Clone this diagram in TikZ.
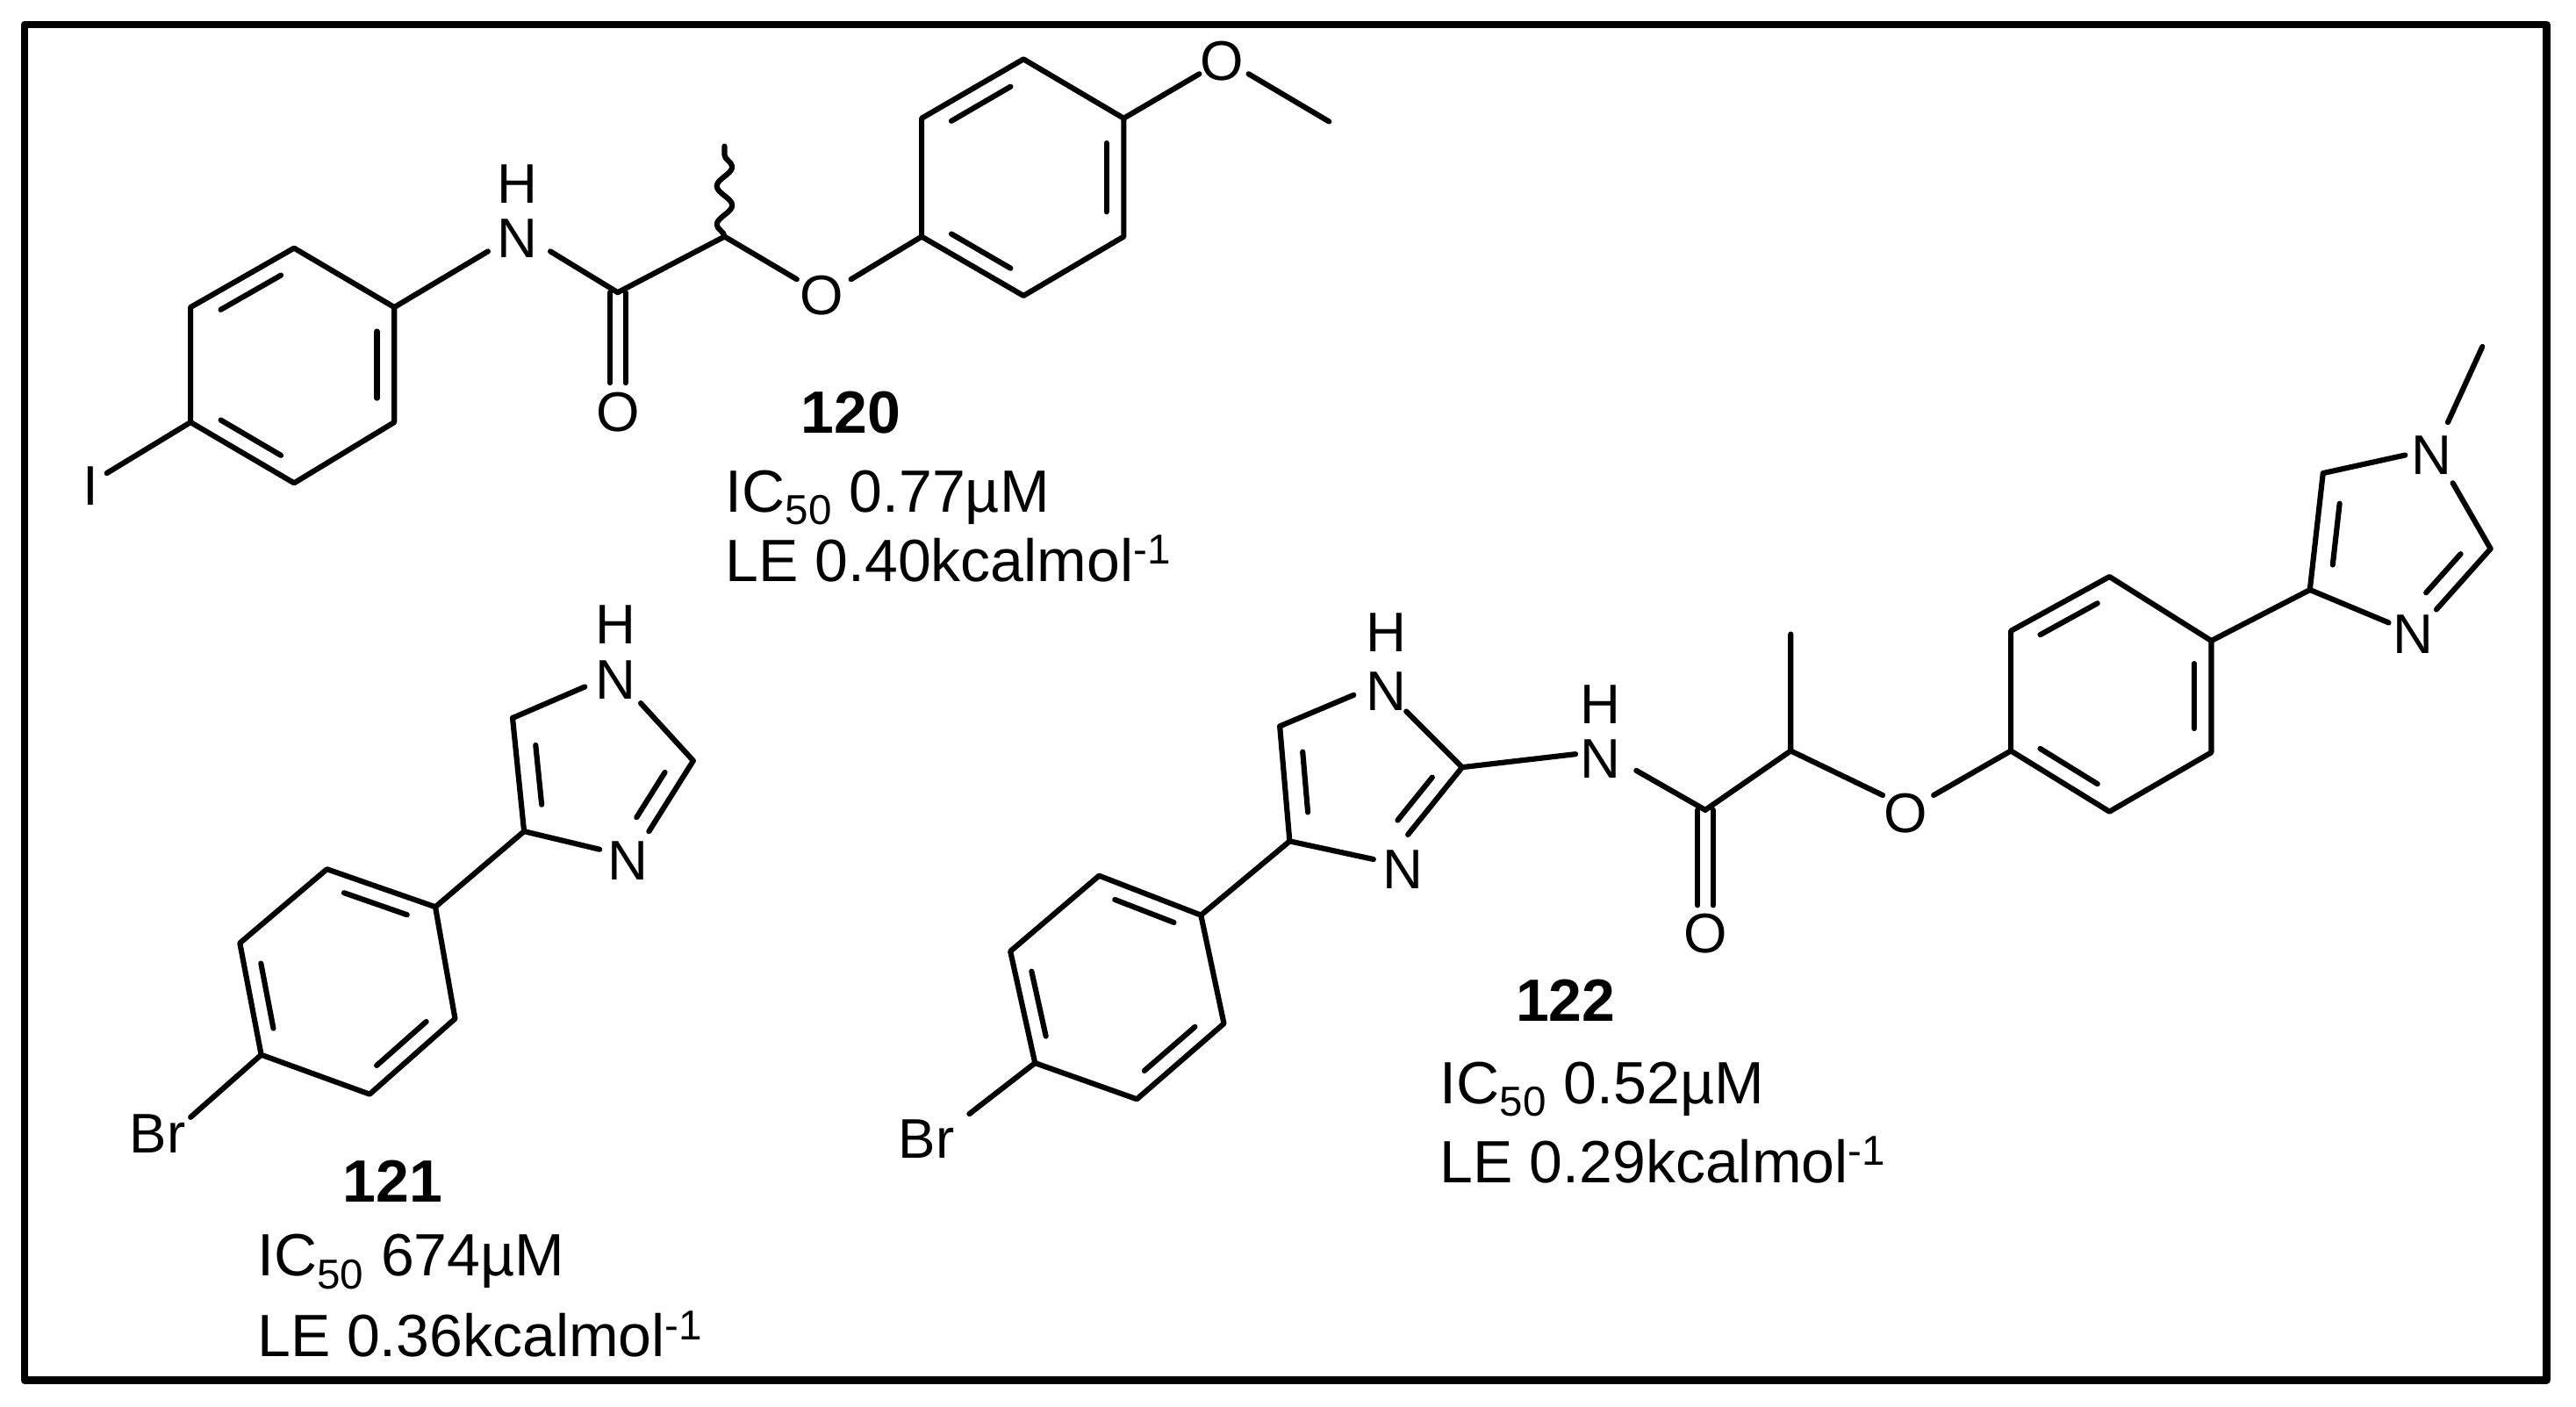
\documentclass[tikz,border=0pt]{standalone}
\usepackage{fontspec}
\setmainfont{Liberation Sans}
\usetikzlibrary{calc,decorations.pathmorphing}
\begin{document}
\begin{tikzpicture}[x=0.03cm,y=-0.03cm,line width=2.8pt,line cap=round,line join=round,
  atom/.style={inner sep=0pt,font=\fontsize{29}{30}\selectfont},
  lab/.style={inner sep=0pt,anchor=west,font=\fontsize{31}{33}\selectfont},
  num/.style={inner sep=0pt,font=\fontsize{31}{33}\selectfont\bfseries}]
\useasboundingbox (0,0) rectangle (1568,856);
\draw[line width=4pt] (15,15) rectangle (1550,840);
\newcommand{\dbond}[4]{\draw ($($(#1)!0.15!(#2)$)!#4!(#3)$) -- ($($(#2)!0.15!(#1)$)!#4!(#3)$);}
% ---------- 120 ----------
\coordinate (a1) at (179,151); \coordinate (a2) at (240,187); \coordinate (a3) at (240,257);
\coordinate (a4) at (179,294); \coordinate (a5) at (116,257); \coordinate (a6) at (116,187);
\coordinate (ac) at (178,222);
\draw (a1)--(a2)--(a3)--(a4)--(a5)--(a6)--cycle;
\dbond{a1}{a6}{ac}{0.17}\dbond{a2}{a3}{ac}{0.17}\dbond{a5}{a4}{ac}{0.17}
\node[atom] (I1) at (55,296) {I};
\coordinate (I1b) at (65,288);
\draw (a5)--(I1b);
\node[atom] (N1) at (315,145) {N};
\node[atom] (H1) at (315,112) {H};
\coordinate (N1l) at (297,153); \coordinate (N1r) at (335,153);
\draw (a2)--(N1l);
\coordinate (c1) at (376,178);
\draw (N1r)--(c1);
\coordinate (o1b) at (376,233);
\draw ([xshift=-4]c1)--([xshift=-4]o1b); \draw ([xshift=4]c1)--([xshift=4]o1b);
\node[atom] (O1) at (376,251) {O};
\coordinate (ch1) at (441,144); \coordinate (me1) at (441,89);
\draw (c1)--(ch1);
\draw[decorate,decoration={snake,amplitude=4,segment length=20}] (ch1)--(me1);
\coordinate (o2l) at (485,170); \coordinate (o2r) at (518,170);
\draw (ch1)--(o2l);
\node[atom] (O2) at (500,180) {O};
\coordinate (b1) at (561,144); \coordinate (b2) at (561,72); \coordinate (b3) at (623,36);
\coordinate (b4) at (684,72); \coordinate (b5) at (684,144); \coordinate (b6) at (623,180);
\coordinate (bc) at (622,108);
\draw (o2r)--(b1);
\draw (b1)--(b2)--(b3)--(b4)--(b5)--(b6)--cycle;
\dbond{b2}{b3}{bc}{0.17}\dbond{b4}{b5}{bc}{0.17}\dbond{b1}{b6}{bc}{0.17}
\coordinate (o3l) at (730,45); \coordinate (o3r) at (760,45); \coordinate (me2) at (809,74);
\draw (b4)--(o3l);
\node[atom] (O3) at (744,37) {O};
\draw (o3r)--(me2);
\node[num] (L120) at (518,251) {120};
\node[lab] (IC120) at (440,303) {IC\textsubscript{50} 0.77µM};
\node[lab] (LE120) at (440,340) {LE 0.40kcalmol\textsuperscript{-1}};
% ---------- 121 ----------
\node[atom] (H2) at (375,380) {H};
\node[atom] (N2) at (375,414) {N};
\node[atom] (N3) at (382,524) {N};
\coordinate (i5) at (312,437); \coordinate (i1) at (356,418); \coordinate (i1r) at (390,428);
\coordinate (i2) at (422,463); \coordinate (i3t) at (395,506); \coordinate (i3l) at (365,517);
\coordinate (i4) at (319,506); \coordinate (ic) at (365,472);
\draw (i5)--(i1); \draw (i1r)--(i2)--(i3t); \draw (i3l)--(i4)--(i5);
\dbond{i4}{i5}{ic}{0.25}
\draw ($($(i2)!0.15!(i3t)$)!0.25!(ic)$) -- ($(i3t)!0.25!(ic)$);
\coordinate (r1) at (265,552); \coordinate (r2) at (199,529); \coordinate (r3) at (146,574);
\coordinate (r4) at (159,642); \coordinate (r5) at (225,666); \coordinate (r6) at (277,620);
\coordinate (rc) at (212,597);
\draw (i4)--(r1);
\draw (r1)--(r2)--(r3)--(r4)--(r5)--(r6)--cycle;
\dbond{r2}{r1}{rc}{0.17}\dbond{r3}{r4}{rc}{0.17}\dbond{r5}{r6}{rc}{0.17}
\node[atom] (Br1) at (96,690) {Br};
\coordinate (Br1b) at (116,680);
\draw (r4)--(Br1b);
\node[num] (L121) at (239,719) {121};
\node[lab] (IC121) at (155,768) {IC\textsubscript{50} 674µM};
\node[lab] (LE121) at (155,812) {LE 0.36kcalmol\textsuperscript{-1}};
% ---------- 122 ----------
\node[atom] (Br2) at (564,693) {Br};
\coordinate (Br2b) at (590,678);
\coordinate (s1) at (630,647); \coordinate (s2) at (615,579); \coordinate (s3) at (669,533);
\coordinate (s4) at (731,557); \coordinate (s5) at (745,623); \coordinate (s6) at (692,669);
\coordinate (sc) at (680,601);
\draw (Br2b)--(s1);
\draw (s1)--(s2)--(s3)--(s4)--(s5)--(s6)--cycle;
\dbond{s2}{s1}{sc}{0.17}\dbond{s3}{s4}{sc}{0.17}\dbond{s5}{s6}{sc}{0.17}
\coordinate (j4) at (785,512); \coordinate (j5) at (779,442); \coordinate (j1) at (824,423);
\coordinate (j1r) at (856,433); \coordinate (j2) at (890,467); \coordinate (j3t) at (857,508);
\coordinate (j3l) at (836,523); \coordinate (jc) at (832,473);
\draw (s4)--(j4);
\draw (j4)--(j5)--(j1); \draw (j1r)--(j2)--(j3t); \draw (j3l)--(j4);
\dbond{j4}{j5}{jc}{0.25}
\draw ($($(j2)!0.15!(j3t)$)!0.25!(jc)$) -- ($(j3t)!0.25!(jc)$);
\node[atom] (H3) at (844,385) {H};
\node[atom] (N4) at (844,421) {N};
\node[atom] (N5) at (854,529) {N};
\coordinate (n6l) at (959,459);
\draw (j2)--(n6l);
\node[atom] (N6) at (974,462) {N};
\node[atom] (H4) at (974,429) {H};
\coordinate (n6r) at (996,469); \coordinate (c2) at (1038,493); \coordinate (o4b) at (1038,551);
\draw (n6r)--(c2);
\draw ([xshift=-4]c2)--([xshift=-4]o4b); \draw ([xshift=4]c2)--([xshift=4]o4b);
\node[atom] (O4) at (1038,568) {O};
\coordinate (ch2) at (1090,457); \coordinate (me3) at (1090,386);
\draw (c2)--(ch2)--(me3);
\coordinate (o5l) at (1146,484); \coordinate (o5r) at (1177,484);
\draw (ch2)--(o5l);
\node[atom] (O5) at (1160,495) {O};
\coordinate (t1) at (1224,457); \coordinate (t2) at (1224,384); \coordinate (t3) at (1284,351);
\coordinate (t4) at (1346,390); \coordinate (t5) at (1346,458); \coordinate (t6) at (1284,494);
\coordinate (tc) at (1285,422);
\draw (o5r)--(t1);
\draw (t1)--(t2)--(t3)--(t4)--(t5)--(t6)--cycle;
\dbond{t2}{t3}{tc}{0.17}\dbond{t4}{t5}{tc}{0.17}\dbond{t1}{t6}{tc}{0.17}
\coordinate (k4) at (1406,359); \coordinate (k5) at (1414,288); \coordinate (k1) at (1464,277);
\coordinate (k1r) at (1493,294); \coordinate (k2) at (1516,334); \coordinate (k3t) at (1483,371);
\coordinate (k3l) at (1454,379); \coordinate (kc) at (1458,330);
\draw (t4)--(k4);
\draw (k4)--(k5)--(k1); \draw (k1r)--(k2)--(k3t); \draw (k3l)--(k4);
\dbond{k4}{k5}{kc}{0.25}
\draw ($($(k2)!0.15!(k3t)$)!0.25!(kc)$) -- ($(k3t)!0.25!(kc)$);
\node[atom] (N7) at (1480,277) {N};
\node[atom] (N8) at (1469,386) {N};
\coordinate (n7t) at (1490,257); \coordinate (me4) at (1511,211);
\draw (n7t)--(me4);
\node[num] (L122) at (953,609) {122};
\node[lab] (IC122) at (875,663) {IC\textsubscript{50} 0.52µM};
\node[lab] (LE122) at (875,706) {LE 0.29kcalmol\textsuperscript{-1}};
\end{tikzpicture}
\end{document}
